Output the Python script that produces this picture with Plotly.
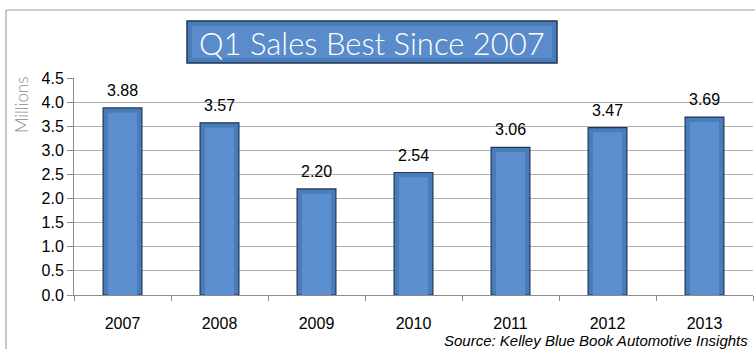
import plotly.graph_objects as go

years = ["2007", "2008", "2009", "2010", "2011", "2012", "2013"]
sales = [3.88, 3.57, 2.20, 2.54, 3.06, 3.47, 3.69]
labels = ["3.88", "3.57", "2.20", "2.54", "3.06", "3.47", "3.69"]
yticks = [0.0, 0.5, 1.0, 1.5, 2.0, 2.5, 3.0, 3.5, 4.0, 4.5]

W, H = 755, 349
L, R, T, B = 74, 2, 78, 54
pw, ph = W - L - R, H - T - B

def px_x(x):
    return (x - L) / pw

def px_y(y):
    return (H - B - y) / ph

fig = go.Figure()
fig.add_trace(go.Bar(
    x=years, y=sales,
    marker=dict(color="#4a7cba", line=dict(color="#1f3656", width=1.2)),
    width=0.4, hoverinfo="skip",
))
# inner highlight for bevel look
fig.add_trace(go.Bar(
    x=years, y=[v - 0.1 for v in sales],
    marker=dict(color="#5b8fd0", line=dict(width=0)),
    width=0.3, hoverinfo="skip",
))

annotations = [
    dict(x=i, y=v, text=t, xref="x", yref="y", showarrow=False,
         yanchor="bottom", yshift=7,
         font=dict(family="Liberation Sans, Arial", size=16, color="#000000"))
    for i, (v, t) in enumerate(zip(sales, labels))
]
annotations += [
    dict(text="Q1 Sales Best Since 2007", xref="paper", yref="paper",
         x=px_x(372), y=px_y(43), xanchor="center", yanchor="middle",
         showarrow=False,
         font=dict(family="Lato", size=31, color="#ffffff", weight=300)),
    dict(text="<i>Source: Kelley Blue Book Automotive Insights</i>",
         xref="paper", yref="paper", x=px_x(750), y=px_y(340),
         xanchor="right", yanchor="middle", showarrow=False,
         font=dict(family="Liberation Sans, Arial", size=15, color="#000000")),
    dict(text="Millions", xref="paper", yref="paper", textangle=-90,
         x=px_x(21), y=px_y(105), xanchor="center", yanchor="middle",
         showarrow=False,
         font=dict(family="Lato", size=17, color="#8c8c8c", weight=300)),
]

fig.update_layout(
    width=W, height=H,
    margin=dict(l=L, r=R, t=T, b=B),
    paper_bgcolor="white", plot_bgcolor="white",
    showlegend=False, barmode="overlay",
    xaxis=dict(
        type="category", showgrid=False, ticks="outside", tickson="boundaries",
        ticklen=5, tickcolor="#8c8c8c", showline=True, linecolor="#8c8c8c",
        ticklabelstandoff=14, tickangle=0,
        tickfont=dict(family="Liberation Sans, Arial", size=16, color="#000000"),
    ),
    yaxis=dict(
        range=[0, 4.5], tickvals=yticks, ticktext=[f"{v:.1f}" for v in yticks],
        showgrid=True, gridcolor="#b0b0b0", gridwidth=1,
        ticks="outside", ticklen=6, tickcolor="#8c8c8c",
        showline=True, linecolor="#8c8c8c", zeroline=False,
        tickfont=dict(family="Liberation Sans, Arial", size=16, color="#000000"),
    ),
    shapes=[
        dict(type="line", xref="paper", yref="paper",
             x0=px_x(6), x1=px_x(760), y0=px_y(10), y1=px_y(10),
             line=dict(color="#a0a0a0", width=1.2)),
        dict(type="line", xref="paper", yref="paper",
             x0=px_x(6), x1=px_x(6), y0=px_y(10), y1=px_y(360),
             line=dict(color="#a0a0a0", width=1.2)),
        dict(type="rect", xref="paper", yref="paper",
             x0=px_x(187), x1=px_x(557), y0=px_y(63), y1=px_y(21),
             fillcolor="#4a7cba", line=dict(color="#1f3656", width=1.5)),
        dict(type="rect", xref="paper", yref="paper",
             x0=px_x(192), x1=px_x(552), y0=px_y(58), y1=px_y(26),
             fillcolor="#5a8ccb", line=dict(width=0)),
    ],
    annotations=annotations,
)

fig.write_html("out.html")
